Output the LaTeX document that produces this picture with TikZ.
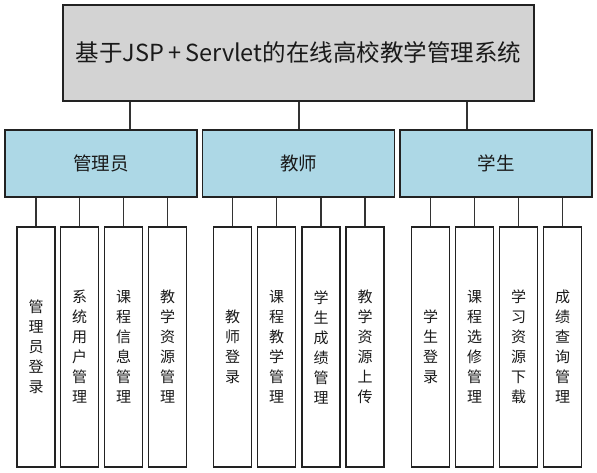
\documentclass[tikz,border=0pt]{standalone}
\usepackage{fontspec}
\setmainfont{Noto Sans CJK SC}
\definecolor{topfill}{HTML}{D3D3D3}
\definecolor{midfill}{HTML}{ADD8E6}
\definecolor{edge}{HTML}{222222}
\definecolor{wire}{HTML}{333333}
\definecolor{ink}{HTML}{1A1A1A}
\begin{document}
\begin{tikzpicture}[x=1pt,y=-1pt,
  topbox/.style={draw=edge,line width=1.3pt,fill=topfill,text=ink,minimum width=471pt,minimum height=96pt,inner sep=0pt,font=\fontsize{23.5}{28}\selectfont},
  midbox/.style={draw=edge,line width=1.3pt,fill=midfill,text=ink,minimum width=192pt,minimum height=67pt,inner sep=0pt,font=\fontsize{18.5}{22}\selectfont},
  leafbox/.style={draw=edge,line width=1.3pt,fill=white,text=ink,minimum width=38pt,minimum height=240pt,inner sep=0pt,align=center,font=\fontsize{15}{20}\selectfont},
  wirestyle/.style={draw=wire,line width=1.5pt}]
\useasboundingbox (0,0) rectangle (597,473);
\node[topbox] (top) at (298.5,53) {\raisebox{2.5pt}{基于JSP\,+\,Servlet的在线高校教学管理系统}};
\node[midbox] (m1) at (101,163.5) {管理员};
\node[midbox] (m2) at (298.5,163.5) {教师};
\node[midbox] (m3) at (496,163.5) {学生};
\node[leafbox] (b1) at (36,347) {管\\理\\员\\登\\录};
\node[leafbox] (b2) at (79.5,347) {系\\统\\用\\户\\管\\理};
\node[leafbox] (b3) at (123.5,347) {课\\程\\信\\息\\管\\理};
\node[leafbox] (b4) at (167.5,347) {教\\学\\资\\源\\管\\理};
\node[leafbox] (b5) at (232.5,347) {教\\师\\登\\录};
\node[leafbox] (b6) at (276.5,347) {课\\程\\教\\学\\管\\理};
\node[leafbox] (b7) at (321,347) {学\\生\\成\\绩\\管\\理};
\node[leafbox] (b8) at (365,347) {教\\学\\资\\源\\上\\传};
\node[leafbox] (b9) at (430.5,347) {学\\生\\登\\录};
\node[leafbox] (b10) at (474.5,347) {课\\程\\选\\修\\管\\理};
\node[leafbox] (b11) at (518.5,347) {学\\习\\资\\源\\下\\载};
\node[leafbox] (b12) at (562.5,347) {成\\绩\\查\\询\\管\\理};
\draw[wirestyle] (top.south -| 130,0) -- (m1.north -| 130,0);
\draw[wirestyle] (top.south -| 299,0) -- (m2.north -| 299,0);
\draw[wirestyle] (top.south -| 467,0) -- (m3.north -| 467,0);
\foreach \b in {b1,b2,b3,b4} \draw[wirestyle] (\b.north) -- (\b.north |- m1.south);
\foreach \b in {b5,b6,b7,b8} \draw[wirestyle] (\b.north) -- (\b.north |- m2.south);
\foreach \b in {b9,b10,b11,b12} \draw[wirestyle] (\b.north) -- (\b.north |- m3.south);
\end{tikzpicture}
\end{document}
